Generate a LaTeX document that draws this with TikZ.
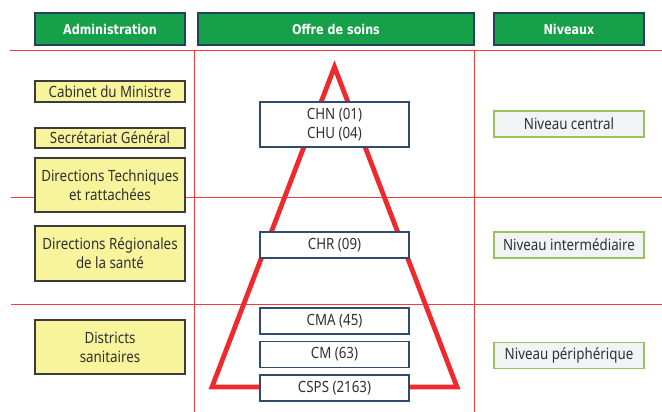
\documentclass[tikz,border=0pt]{standalone}
\usepackage{fontspec}
\setmainfont[FakeStretch=0.86]{Noto Sans}
\newfontfamily\hdrfont[FakeStretch=0.92]{DejaVu Sans Condensed}
\begin{document}
\begin{tikzpicture}[x=1pt,y=-1pt,
  hdr/.style={draw=hdrborder, line width=1.3pt, fill=hdrgreen, text=white, font=\hdrfont\bfseries\fontsize{13.5}{16}\selectfont, minimum height=32pt, inner sep=0pt},
  abox/.style={draw=abord, line width=1.2pt, fill=ayellow, text=txtgray, font=\fontsize{15.5}{19}\selectfont, minimum width=150pt, inner sep=0pt, align=center},
  obox/.style={draw=oborder, line width=1.2pt, fill=white, text=txtgray, font=\fontsize{15.5}{19.5}\selectfont, minimum width=149pt, inner sep=0pt, align=center},
  nbox/.style={draw=ngreen, line width=1.2pt, fill=nfill, text=txtgray, font=\fontsize{15.5}{19}\selectfont, minimum width=150pt, minimum height=26pt, inner sep=0pt},
  gridline/.style={draw=gridred, line width=1pt},
  tri/.style={draw=trired, line width=4.8pt, line join=miter}
]
\definecolor{hdrgreen}{HTML}{17A04A}
\definecolor{hdrborder}{HTML}{24405F}
\definecolor{ayellow}{HTML}{F8F49C}
\definecolor{abord}{HTML}{3C3C3C}
\definecolor{oborder}{HTML}{2F4C6C}
\definecolor{ngreen}{HTML}{9CC15E}
\definecolor{nfill}{HTML}{F1F4F5}
\definecolor{txtgray}{HTML}{303030}
\definecolor{gridred}{HTML}{F23C3C}
\definecolor{trired}{HTML}{EE2A2E}

\useasboundingbox (0,0) rectangle (662,412);

% grid lines
\coordinate (h1l) at (10,51);   \coordinate (h1r) at (662,51);
\coordinate (h2l) at (11,197);  \coordinate (h2r) at (662,197);
\coordinate (h3l) at (11,304);  \coordinate (h3r) at (662,304);
\coordinate (v1t) at (194,51);  \coordinate (v1b) at (194,412);
\coordinate (v2t) at (474,51);  \coordinate (v2b) at (474,412);
\draw[gridline] (h1l) -- (h1r);
\draw[gridline] (h2l) -- (h2r);
\draw[gridline] (h3l) -- (h3r);
\draw[gridline] (v1t) -- (v1b);
\draw[gridline] (v2t) -- (v2b);

% triangle
\coordinate (apex) at (334.5,67);
\coordinate (bl) at (212,387);
\coordinate (br) at (457,387);
\draw[tri] (apex) -- (bl) -- (br) -- cycle;

% headers
\node[hdr, minimum width=150pt] (hadm) at (110,29) {Administration};
\node[hdr, minimum width=276pt] (hoff) at (336,29) {Offre de soins};
\node[hdr, minimum width=150pt] (hniv) at (569,29) {Niveaux};

% administration
\node[abox, minimum height=21pt] (cab) at (110,91.5) {Cabinet du Ministre};
\node[abox, minimum height=20pt] (sg) at (110,138) {Secrétariat Général};
\node[abox, minimum height=54pt] (dt) at (110,185) {Directions Techniques\\et rattachées};
\node[abox, minimum height=55pt] (dr) at (110,253.5) {Directions Régionales\\de la santé};
\node[abox, minimum height=54pt] (ds) at (110,347) {Districts\\sanitaires};

% offre de soins
\node[obox, minimum height=45pt] (chn) at (334.5,124.5) {CHN (01)\\CHU (04)};
\node[obox, minimum height=26pt] (chr) at (334.5,245) {CHR (09)};
\node[obox, minimum height=26pt] (cma) at (334.5,321) {CMA (45)};
\node[obox, minimum height=26pt] (cm) at (334.5,354.5) {CM (63)};
\node[obox, minimum height=26pt] (csps) at (334.5,388) {CSPS (2163)};

% niveaux
\node[nbox] (nc) at (569,124) {Niveau central};
\node[nbox] (ni) at (569,245) {Niveau intermédiaire};
\node[nbox] (np) at (569,355.5) {Niveau périphérique};
\end{tikzpicture}
\end{document}
